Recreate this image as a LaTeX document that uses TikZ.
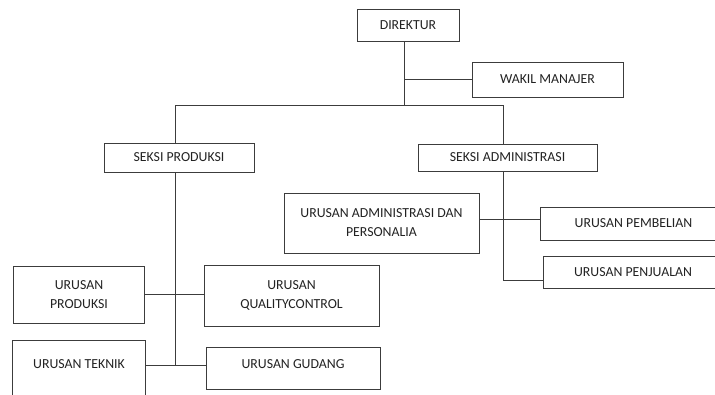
\documentclass[tikz,border=0pt]{standalone}
\usepackage{fontspec}
\setmainfont{Carlito}
\usepackage{tikz}
\usetikzlibrary{positioning,calc}
\definecolor{boxline}{HTML}{3C3C3C}
\definecolor{boxtext}{HTML}{222222}
\tikzset{
    every node/.style={font=\fontsize{13.8}{19}\selectfont,text=boxtext},
    unitbox/.style={draw=boxline,line width=1pt,inner sep=0pt,align=center},
    link/.style={draw=boxline,line width=1pt}
}
\begin{document}
\begin{tikzpicture}[x=1pt,y=-1pt]
    \useasboundingbox (0,0) rectangle (715,394);
    \clip (0,0) rectangle (715,394);
    % top
    \node[unitbox,minimum width=102pt,minimum height=32pt] (dir) at (408,25) {DIREKTUR};
    \node[unitbox,minimum width=151pt,minimum height=35pt] (wakil) at (547.5,79.5) {WAKIL MANAJER};
    % seksi
    \node[unitbox,minimum width=150pt,minimum height=29pt] (sekprod) at (179,157.5) {SEKSI PRODUKSI};
    \node[unitbox,minimum width=179pt,minimum height=27pt] (sekadm) at (507.5,157.5) {SEKSI ADMINISTRASI};
    % urusan administrasi
    \node[unitbox,minimum width=195pt,minimum height=60pt] (admin) at (381.5,223) {URUSAN ADMINISTRASI DAN\\PERSONALIA};
    \node[unitbox,minimum width=187pt,minimum height=33pt] (beli) at (633.5,223.5) {URUSAN PEMBELIAN};
    \node[unitbox,minimum width=180pt,minimum height=32pt] (jual) at (633,272) {URUSAN PENJUALAN};
    % urusan produksi
    \node[unitbox,minimum width=131pt,minimum height=57pt] (prod) at (79,294.5) {URUSAN\\PRODUKSI};
    \node[unitbox,minimum width=175pt,minimum height=61pt] (qc) at (291.5,295.5) {URUSAN\\QUALITYCONTROL};
    \node[unitbox,anchor=north west,minimum width=133pt,inner ysep=18.5pt,text height=9pt,text depth=45pt] (teknik) at (12,340) {URUSAN TEKNIK};
    \node[unitbox,anchor=north,minimum width=174pt,inner ysep=11.5pt,text height=9pt,text depth=10pt] (gudang) at (293,347) {URUSAN GUDANG};
    % lines
    \coordinate (hub) at (404,105);
    \coordinate (lcol) at (175,105);
    \coordinate (rcol) at (503,105);
    \draw[link] (dir.south -| hub) -- (hub);
    \draw[link] (wakil.west) -- (wakil.west -| hub);
    \draw[link] (lcol) -- (rcol);
    \draw[link] (lcol) -- (lcol |- sekprod.north);
    \draw[link] (rcol) -- (rcol |- sekadm.north);
    \draw[link] (lcol |- sekprod.south) -- (lcol |- teknik.mid east);
    \draw[link] (prod.east) -- (qc.west |- prod.east);
    \draw[link] (teknik.mid east) -- (gudang.mid west);
    \draw[link] (rcol |- sekadm.south) |- ([yshift=8pt]jual.south west);
    \draw[link] ([yshift=3.5pt]admin.east) -- ([yshift=3.5pt]admin.east -| beli.west);
\end{tikzpicture}
\end{document}
